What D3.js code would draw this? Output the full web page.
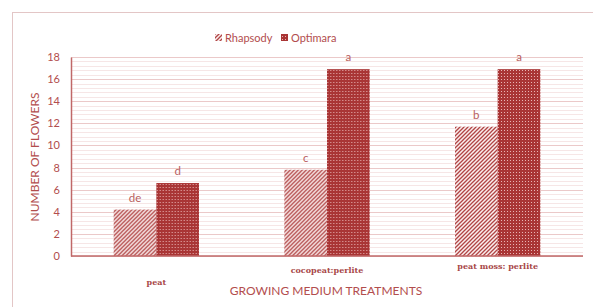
<!DOCTYPE html>
<meta charset="utf-8">
<style>
    body { margin: 0; background: #fff; }
    svg { font-family: Lato, "Open Sans", sans-serif; }
</style>
<body>
<script src="https://cdn.jsdelivr.net/npm/d3@7"></script>
<script>
    // data
    const treatments = ["peat", "cocopeat:perlite", "peat moss: perlite"];
    const cultivars = ["Rhapsody", "Optimara"];
    const rhapsody = [4.2, 7.8, 11.7];
    const optimara = [6.6, 16.9, 16.9];
    const letters = [["de", "d"], ["c", "a"], ["b", "a"]];
    const yTicks = [0, 2, 4, 6, 8, 10, 12, 14, 16, 18];

    const W = 593, H = 307;
    const margin = {top: 57, right: 10, bottom: 51, left: 71};
    const red = "#a93535";
    const txt = "#b24d4d";

    const svg = d3.select("body").append("svg")
        .attr("width", W).attr("height", H);

    const defs = svg.append("defs");
    // wide upward diagonal
    const p1 = defs.append("pattern").attr("id", "diag")
        .attr("patternUnits", "userSpaceOnUse").attr("width", 4).attr("height", 4);
    p1.append("rect").attr("width", 4).attr("height", 4).attr("fill", "#fbeeee");
    p1.append("path").attr("d", "M-1,1 l2,-2 M0,4 l4,-4 M3,5 l2,-2")
        .attr("stroke", "#b04545").attr("stroke-width", 1.3);
    // small checker / dotted grid
    const p2 = defs.append("pattern").attr("id", "check")
        .attr("patternUnits", "userSpaceOnUse").attr("width", 3).attr("height", 3);
    p2.append("rect").attr("width", 3).attr("height", 3).attr("fill", red);
    p2.append("rect").attr("x", 1).attr("y", 1).attr("width", 1).attr("height", 1).attr("fill", "#e8b4b4");
    const fills = ["url(#diag)", "url(#check)"];

    // outer frame
    svg.append("rect").attr("x", 12.5).attr("y", 12.5)
        .attr("width", W).attr("height", H)
        .attr("fill", "none").attr("stroke", "#e3c6c6");

    const x0 = d3.scaleBand().domain(treatments)
        .range([margin.left, W - margin.right])
        .paddingInner(0.5).paddingOuter(0.25);
    const x1 = d3.scaleBand().domain(cultivars).range([0, x0.bandwidth()]);
    const y = d3.scaleLinear().domain([0, 18]).range([H - margin.bottom, margin.top]);

    // minor gridlines
    svg.append("g").selectAll("line")
        .data(d3.range(0, 18.01, 0.4))
        .join("line")
        .attr("x1", margin.left).attr("x2", W - margin.right)
        .attr("y1", d => Math.round(y(d)) + 0.5).attr("y2", d => Math.round(y(d)) + 0.5)
        .attr("stroke", "#f6e6e6");
    // major gridlines
    svg.append("g").selectAll("line")
        .data(yTicks)
        .join("line")
        .attr("x1", margin.left).attr("x2", W - margin.right)
        .attr("y1", d => Math.round(y(d)) + 0.5).attr("y2", d => Math.round(y(d)) + 0.5)
        .attr("stroke", "#ebc9c9");

    // bars
    const rows = treatments.map((t, i) => ({t, vals: [rhapsody[i], optimara[i]], lab: letters[i]}));
    const grp = svg.append("g").selectAll("g")
        .data(rows).join("g")
        .attr("transform", d => `translate(${x0(d.t)},0)`);
    grp.selectAll("rect")
        .data(d => d.vals.map((v, j) => ({v, j})))
        .join("rect")
        .attr("x", d => x1(cultivars[d.j]))
        .attr("width", x1.bandwidth())
        .attr("y", d => y(d.v))
        .attr("height", d => y(0) - y(d.v))
        .attr("fill", d => fills[d.j]);
    grp.selectAll("text")
        .data(d => d.vals.map((v, j) => ({v, j, l: d.lab[j]})))
        .join("text")
        .attr("x", d => x1(cultivars[d.j]) + x1.bandwidth() / 2)
        .attr("y", d => y(d.v) - 8)
        .attr("text-anchor", "middle")
        .attr("font-size", 11.5).attr("fill", "#b86060")
        .text(d => d.l);

    // axes
    const yAxis = svg.append("g")
        .attr("transform", `translate(${margin.left},0)`)
        .call(d3.axisLeft(y).tickValues(yTicks).tickSize(0).tickPadding(11));
    yAxis.select(".domain").attr("stroke", "#c06868").attr("stroke-width", 1.5);
    yAxis.selectAll("text").attr("font-size", 11).attr("fill", txt)
        .attr("font-family", "Lato, sans-serif");

    svg.append("line")
        .attr("x1", margin.left).attr("x2", W - margin.right)
        .attr("y1", y(0)).attr("y2", y(0))
        .attr("stroke", "#c06868").attr("stroke-width", 1.5);

    // category labels sit at slightly different heights in the original
    const catDy = {"peat": 26, "cocopeat:perlite": 14, "peat moss: perlite": 10};
    svg.append("g").selectAll("text")
        .data(treatments).join("text")
        .attr("x", d => x0(d) + x0.bandwidth() / 2)
        .attr("y", d => y(0) + catDy[d] + 3)
        .attr("text-anchor", "middle")
        .attr("font-family", "'DejaVu Serif', serif")
        .attr("font-weight", "bold")
        .attr("font-size", 8).attr("fill", "#a84848")
        .text(d => d);

    svg.append("text")
        .attr("x", 326).attr("y", 295)
        .attr("text-anchor", "middle")
        .attr("font-size", 12).attr("fill", txt)
        .text("GROWING MEDIUM TREATMENTS");

    svg.append("text")
        .attr("transform", "translate(39,157) rotate(-90)")
        .attr("text-anchor", "middle")
        .attr("font-size", 12).attr("fill", txt)
        .text("NUMBER OF FLOWERS");

    // legend
    const leg = svg.append("g").selectAll("g")
        .data(cultivars).join("g")
        .attr("transform", (d, i) => `translate(${i ? 281 : 215},38)`);
    leg.append("rect").attr("x", 0).attr("y", -4).attr("width", 7).attr("height", 7)
        .attr("fill", (d, i) => fills[i]);
    leg.append("text").attr("x", 10).attr("y", 4)
        .attr("font-size", 11).attr("fill", txt)
        .text(d => d);
</script>
</body>
</html>
